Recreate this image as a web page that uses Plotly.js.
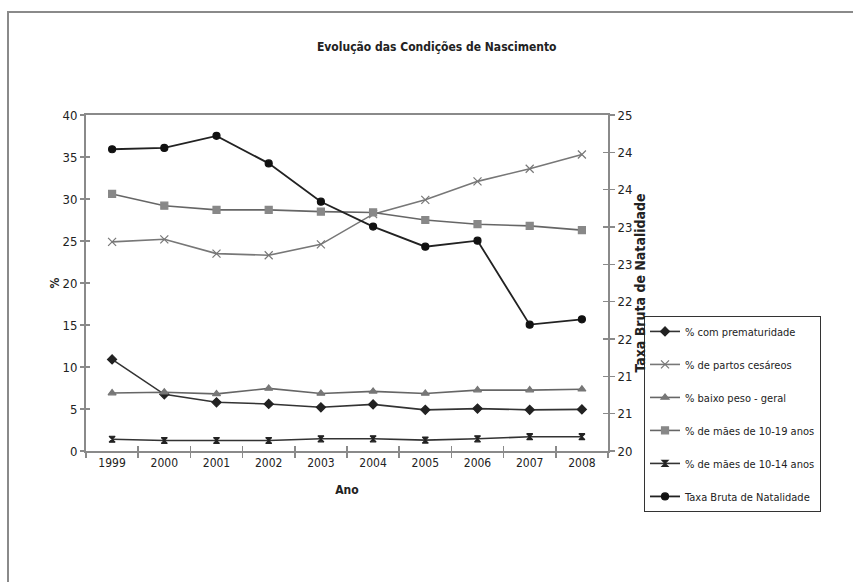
<!DOCTYPE html>
<html><head><meta charset="utf-8">
<script src="https://cdn.plot.ly/plotly-3.0.1.min.js"></script>
<style>
html,body{margin:0;padding:0;background:#fff;overflow:hidden;}
#frame{position:absolute;left:7px;top:11px;width:880px;height:620px;border-left:2px solid #8a8a8a;border-top:2px solid #8a8a8a;}
#chart{position:absolute;left:0;top:0;width:853px;height:582px;}
</style></head><body>
<div id="frame"></div>
<div id="chart"></div>
<script>
const years = ['1999','2000','2001','2002','2003','2004','2005','2006','2007','2008'];
const prematuridade = [10.9, 6.75, 5.8, 5.6, 5.2, 5.55, 4.9, 5.05, 4.9, 4.95];
const cesareos = [24.9, 25.2, 23.5, 23.3, 24.6, 28.2, 29.9, 32.1, 33.6, 35.3];
const baixoPeso = [6.9, 7.0, 6.8, 7.45, 6.85, 7.1, 6.85, 7.25, 7.25, 7.35];
const maes1019 = [30.6, 29.2, 28.7, 28.7, 28.5, 28.4, 27.5, 27.0, 26.8, 26.3];
const maes1014 = [1.4, 1.25, 1.25, 1.25, 1.45, 1.45, 1.3, 1.45, 1.7, 1.7];
const taxaBruta = [24.49, 24.51, 24.69, 24.28, 23.71, 23.34, 23.04, 23.13, 21.88, 21.96];

const seriesNames = ['% com prematuridade','% de partos cesáreos','% baixo peso - geral','% de mães de 10-19 anos','% de mães de 10-14 anos','Taxa Bruta de Natalidade'];

const FONT = "'Liberation Sans Narrow', 'Arial Narrow', 'DejaVu Sans Condensed', sans-serif";

function tr(name, y, axis, lineColor, symbol, mColor, mSize, group, lineW) {
  return {
    type: 'scatter', mode: 'lines+markers', name: name, x: years, y: y, yaxis: axis,
    legendgroup: group,
    line: {color: lineColor, width: lineW || 1.6},
    marker: {symbol: symbol, color: mColor, size: mSize, line: {color: mColor, width: 1.2}}
  };
}

const data = [
  tr(seriesNames[0], prematuridade, 'y', '#333', 'diamond', '#222', 7, 'a'),
  tr(seriesNames[1], cesareos, 'y', '#777', 'x-thin-open', '#777', 8, 'b'),
  tr(seriesNames[2], baixoPeso, 'y', '#666', 'triangle-up', '#777', 7, 'c'),
  tr(seriesNames[3], maes1019, 'y', '#666', 'square', '#888', 7, 'd'),
  tr(seriesNames[4], maes1014, 'y', '#333', 'hourglass', '#222', 6, 'e'),
  tr(seriesNames[5], taxaBruta, 'y2', '#222', 'circle', '#111', 7, 'f', 1.8)
];

const axisLine = '#8a8a8a';
const tickFont = {family: FONT, size: 13, color: '#222'};

const layout = {
  width: 853, height: 582,
  paper_bgcolor: 'rgba(0,0,0,0)', plot_bgcolor: 'rgba(0,0,0,0)',
  margin: {l: 86, r: 245, t: 115, b: 131},
  font: {family: FONT, color: '#222'},
  showlegend: true,
  title: {text: '<b>Evolução das Condições de Nascimento</b>', font: {family: FONT, size: 12, color: '#222'},
          xref: 'container', x: 0.512, xanchor: 'center', yref: 'container', y: 0.919, yanchor: 'middle'},
  xaxis: {
    type: 'category', range: [-0.5, 9.5], tickson: 'boundaries', ticks: 'outside', ticklen: 5,
    tickcolor: axisLine, tickwidth: 1.5, showline: true, linecolor: axisLine, linewidth: 2, mirror: true,
    showgrid: false, zeroline: false, tickfont: {family: FONT, size: 12, color: '#222'},
    title: {text: '<b>Ano</b>', font: {family: FONT, size: 12, color: '#222'}, standoff: 16}
  },
  xaxis3: {
    overlaying: 'x', range: [-0.5, 9.5], tick0: -0.5, dtick: 1, ticks: 'inside', ticklen: 5,
    tickcolor: axisLine, tickwidth: 1.5, showticklabels: false, showline: false, showgrid: false, zeroline: false,
    anchor: 'y', side: 'bottom'
  },
  yaxis: {
    range: [0, 40], dtick: 5, ticks: 'outside', ticklen: 4, tickcolor: axisLine, tickwidth: 1.5,
    showline: true, linecolor: axisLine, linewidth: 2, showgrid: false, zeroline: false, tickfont: tickFont,
    title: {text: '<b>%</b>', font: {family: FONT, size: 12, color: '#222'}, standoff: 0}
  },
  yaxis3: {
    overlaying: 'y', range: [0, 40], dtick: 5, ticks: 'inside', ticklen: 4, tickcolor: axisLine, tickwidth: 1.5,
    showticklabels: false, showline: false, showgrid: false, zeroline: false, side: 'left', anchor: 'x'
  },
  yaxis2: {
    overlaying: 'y', side: 'right', range: [20, 25], tick0: 20, dtick: 5/9, tickformat: '.0f',
    ticks: 'outside', ticklen: 5, tickcolor: axisLine, tickwidth: 1.5,
    showline: true, linecolor: axisLine, linewidth: 2, showgrid: false, zeroline: false, tickfont: tickFont,
    title: {text: '<b>Taxa Bruta de Natalidade</b>', font: {family: FONT, size: 14, color: '#222'}, standoff: 0}
  },
  yaxis4: {
    overlaying: 'y', side: 'right', range: [20, 25], tick0: 20, dtick: 5/9, ticks: 'inside', ticklen: 5,
    tickcolor: axisLine, tickwidth: 1.5, showticklabels: false, showline: false, showgrid: false, zeroline: false, anchor: 'x'
  },
  legend: {
    x: 1.069, y: 0.402, xanchor: 'left', yanchor: 'top',
    bordercolor: '#333', borderwidth: 1, bgcolor: '#fff',
    font: {family: FONT, size: 11, color: '#222'},
    traceorder: 'grouped', tracegroupgap: 14, itemwidth: 30
  }
};

const extra = [
  {type: 'scatter', x: [0], y: [null], xaxis: 'x3', yaxis: 'y3', showlegend: false, hoverinfo: 'skip', mode: 'markers'},
  {type: 'scatter', x: [0], y: [null], xaxis: 'x3', yaxis: 'y4', showlegend: false, hoverinfo: 'skip', mode: 'markers'}
];

Plotly.newPlot('chart', data.concat(extra), layout, {staticPlot: true});
</script>
</body></html>
